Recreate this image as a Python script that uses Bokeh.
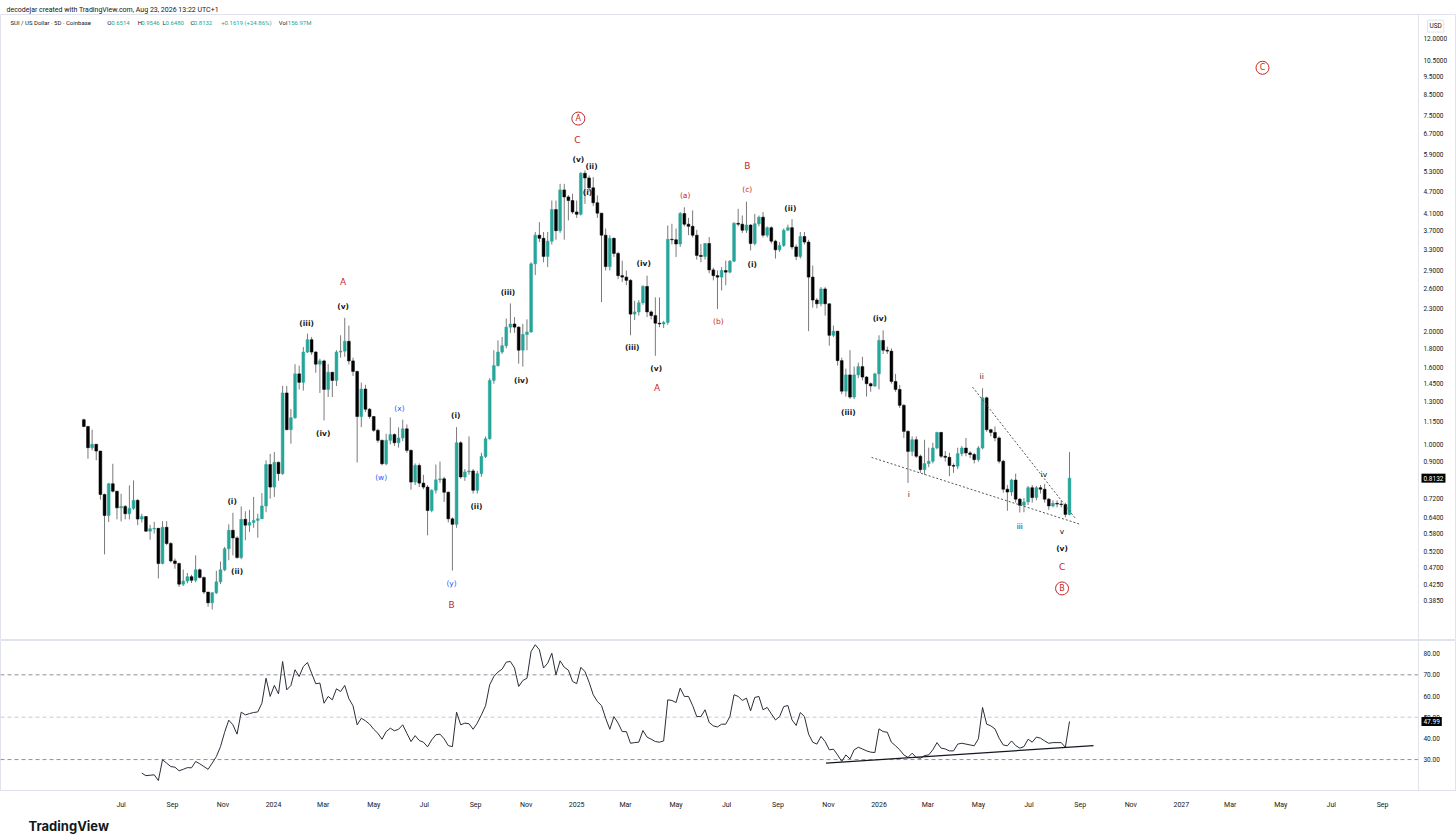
import numpy as np
import pandas as pd
from bokeh.plotting import figure
from bokeh.models import (Range1d, FixedTicker, Span, Label, Title, ColumnDataSource)
from bokeh.layouts import column
from bokeh.embed import file_html
from bokeh.resources import INLINE
from bokeh.core.properties import value

# ---------------- data (SUI / USD, 5-day candles, Coinbase) ----------------
start_date = "2023-05-17"
first_open = 1.163

closes = [
    1.116, 0.980, 1.001, 0.960, 0.736, 0.647, 0.786, 0.751, 0.678, 0.684,
    0.654, 0.676, 0.710, 0.633, 0.643, 0.588, 0.597, 0.598, 0.482, 0.602,
    0.545, 0.490, 0.482, 0.425, 0.433, 0.445, 0.435, 0.464, 0.443, 0.405,
    0.379, 0.403, 0.431, 0.464, 0.528, 0.591, 0.564, 0.500, 0.632, 0.610,
    0.620, 0.628, 0.634, 0.686, 0.884, 0.770, 0.896, 0.836, 1.370, 1.094,
    1.177, 1.540, 1.462, 1.760, 1.898, 1.760, 1.634, 1.667, 1.400, 1.555,
    1.479, 1.760, 1.770, 1.880, 1.667, 1.563, 1.186, 1.403, 1.240, 1.186,
    1.090, 1.025, 0.888, 1.025, 1.062, 1.010, 1.040, 1.100, 0.964, 0.794,
    0.879, 0.789, 0.770, 0.667, 0.755, 0.805, 0.810, 0.746, 0.634, 0.613,
    1.010, 0.819, 0.845, 0.850, 0.755, 0.836, 0.929, 1.035, 1.480, 1.620,
    1.760, 1.830, 2.050, 2.090, 2.050, 1.780, 1.960, 1.990, 3.020, 3.600,
    3.530, 3.160, 3.470, 4.210, 3.700, 4.750, 4.550, 4.450, 4.150, 4.090,
    5.260, 5.110, 4.810, 4.390, 4.120, 3.600, 2.970, 3.530, 3.220, 2.810,
    2.785, 2.730, 2.220, 2.250, 2.380, 2.630, 2.250, 2.200, 2.100, 2.090,
    2.110, 3.510, 3.500, 3.410, 4.110, 3.850, 3.800, 3.600, 3.180, 3.160,
    3.420, 2.910, 2.810, 2.785, 2.900, 2.870, 3.070, 3.870, 3.850, 3.710,
    3.830, 3.420, 3.860, 4.020, 3.600, 3.770, 3.470, 3.290, 3.380, 3.710,
    3.770, 3.350, 3.160, 3.570, 3.450, 2.785, 2.420, 2.365, 2.590, 2.365,
    1.950, 2.000, 1.670, 1.385, 1.530, 1.336, 1.530, 1.610, 1.510, 1.450,
    1.430, 1.540, 1.890, 1.780, 1.770, 1.470, 1.400, 1.270, 1.083, 0.958,
    1.029, 0.930, 0.857, 0.889, 0.902, 0.978, 1.076, 0.930, 0.924, 0.879,
    0.875, 0.945, 0.978, 0.949, 0.940, 0.911, 0.978, 1.330, 1.094, 1.076,
    1.040, 0.902, 0.760, 0.747, 0.804, 0.715, 0.689, 0.703, 0.767, 0.722,
    0.767, 0.760, 0.715, 0.686, 0.697, 0.694, 0.692, 0.6514, 0.8132,
]

highs = [
    1.17, 1.12, 1.094, 1.00, 0.96, 0.74, 0.79, 0.888, 0.75, 0.739,
    0.69, 0.778, 0.802, 0.715, 0.654, 0.645, 0.611, 0.622, 0.60, 0.625,
    0.625, 0.55, 0.497, 0.485, 0.465, 0.455, 0.45, 0.507, 0.468, 0.445,
    0.405, 0.405, 0.461, 0.488, 0.534, 0.613, 0.658, 0.57, 0.684, 0.664,
    0.67, 0.725, 0.654, 0.742, 0.907, 0.944, 0.954, 0.90, 1.43, 1.43,
    1.242, 1.634, 1.62, 1.815, 1.97, 1.93, 1.77, 1.69, 1.68, 1.634,
    1.56, 1.78, 1.95, 2.17, 2.07, 1.70, 1.57, 1.46, 1.44, 1.25,
    1.19, 1.10, 1.03, 1.067, 1.18, 1.07, 1.11, 1.163, 1.13, 0.97,
    0.89, 0.89, 0.83, 0.78, 0.76, 0.884, 0.90, 0.82, 0.75, 0.64,
    1.112, 1.02, 0.86, 1.05, 0.86, 0.85, 0.95, 1.05, 1.50, 1.78,
    1.89, 1.93, 2.16, 2.37, 2.18, 2.06, 2.09, 2.15, 3.05, 3.67,
    3.90, 3.67, 3.67, 4.45, 4.45, 4.93, 4.93, 4.60, 4.64, 4.45,
    5.29, 5.35, 5.19, 5.14, 4.59, 4.10, 3.75, 3.60, 3.55, 3.25,
    3.08, 2.90, 2.75, 2.41, 2.42, 2.65, 2.81, 2.27, 2.46, 2.46,
    2.13, 3.82, 3.86, 3.75, 4.15, 4.27, 4.00, 4.19, 3.72, 3.41,
    3.43, 3.56, 2.95, 2.90, 2.96, 3.08, 3.09, 3.90, 4.23, 4.06,
    4.42, 3.85, 4.10, 4.06, 4.15, 3.80, 3.80, 3.50, 3.45, 3.75,
    3.84, 3.97, 3.40, 3.67, 3.67, 3.50, 2.99, 2.45, 2.62, 2.62,
    2.37, 2.07, 2.00, 1.70, 1.59, 1.78, 1.61, 1.65, 1.71, 1.52,
    1.46, 1.55, 1.95, 2.01, 1.82, 1.80, 1.54, 1.44, 1.28, 1.09,
    1.05, 1.05, 0.94, 1.029, 0.98, 1.01, 1.08, 1.08, 0.96, 0.95,
    0.89, 0.98, 0.99, 1.04, 0.96, 0.95, 0.99, 1.41, 1.34, 1.10,
    1.116, 1.05, 0.91, 0.78, 0.81, 0.836, 0.72, 0.72, 0.775, 0.78,
    0.775, 0.78, 0.785, 0.72, 0.71, 0.71, 0.71, 0.70, 0.9546,
]

lows = [
    1.11, 0.916, 0.964, 0.907, 0.713, 0.510, 0.622, 0.745, 0.632, 0.624,
    0.632, 0.632, 0.67, 0.61, 0.62, 0.585, 0.558, 0.579, 0.440, 0.48,
    0.54, 0.485, 0.467, 0.418, 0.42, 0.427, 0.428, 0.43, 0.44, 0.40,
    0.37, 0.364, 0.40, 0.425, 0.46, 0.492, 0.507, 0.497, 0.495, 0.556,
    0.585, 0.60, 0.565, 0.654, 0.66, 0.717, 0.725, 0.80, 0.83, 1.09,
    1.004, 1.17, 1.40, 1.39, 1.75, 1.73, 1.55, 1.37, 1.158, 1.336,
    1.336, 1.43, 1.70, 1.71, 1.63, 1.52, 0.895, 1.112, 1.22, 1.17,
    1.08, 1.01, 0.88, 0.88, 1.0, 0.99, 0.98, 1.02, 0.95, 0.758,
    0.78, 0.77, 0.76, 0.573, 0.66, 0.74, 0.79, 0.703, 0.62, 0.462,
    0.60, 0.81, 0.80, 0.83, 0.74, 0.74, 0.82, 0.92, 1.03, 1.45,
    1.61, 1.74, 1.80, 1.98, 1.98, 1.64, 1.61, 1.78, 1.98, 2.82,
    3.45, 3.05, 2.96, 3.40, 3.50, 3.65, 3.50, 3.94, 4.10, 4.00,
    4.06, 4.36, 4.70, 4.30, 4.00, 2.39, 2.90, 2.90, 3.15, 2.75,
    2.70, 2.65, 1.95, 2.14, 2.20, 2.35, 2.18, 2.15, 1.72, 2.05,
    2.04, 2.08, 3.40, 3.15, 3.35, 3.80, 3.60, 3.55, 3.10, 3.05,
    3.10, 2.85, 2.73, 2.29, 2.566, 2.65, 2.85, 3.05, 3.80, 3.65,
    3.65, 3.28, 3.38, 3.80, 3.55, 3.55, 3.42, 3.12, 3.25, 3.35,
    3.70, 3.30, 3.09, 3.12, 3.40, 2.00, 2.31, 2.30, 2.33, 2.20,
    1.83, 1.93, 1.62, 1.36, 1.34, 1.32, 1.32, 1.50, 1.48, 1.34,
    1.38, 1.42, 1.40, 1.74, 1.74, 1.45, 1.38, 1.25, 1.04, 0.79,
    0.93, 0.92, 0.84, 0.83, 0.87, 0.89, 0.97, 0.92, 0.90, 0.823,
    0.84, 0.86, 0.93, 0.93, 0.92, 0.89, 0.90, 0.97, 1.08, 1.05,
    1.02, 0.89, 0.744, 0.666, 0.73, 0.70, 0.659, 0.66, 0.69, 0.70,
    0.71, 0.74, 0.70, 0.67, 0.68, 0.68, 0.68, 0.64, 0.6480,
]

rsi_values = [
    23.6, 22.4, 22.6, 22.8, 20.1, 29.9, 28.3, 26.7, 26.4, 24.7,
    25.4, 26.2, 26.1, 29.1, 28.0, 26.7, 25.4, 28.3, 31.4, 36.1,
    42.9, 48.6, 46.4, 42.0, 52.4, 51.1, 51.7, 52.2, 52.5, 56.6,
    68.4, 59.8, 65.0, 61.0, 76.3, 62.9, 65.0, 72.4, 69.2, 73.9,
    75.8, 70.8, 65.8, 66.1, 56.6, 59.8, 58.2, 63.4, 62.1, 65.0,
    58.7, 55.4, 46.4, 49.5, 48.3, 46.7, 44.3, 42.4, 39.6, 43.2,
    44.8, 43.6, 44.3, 46.4, 42.4, 38.5, 41.3, 39.0, 38.2, 36.0,
    39.3, 41.7, 42.0, 39.8, 36.6, 36.1, 52.4, 46.4, 47.2, 46.9,
    44.3, 47.2, 51.1, 55.4, 65.3, 69.2, 71.3, 72.7, 76.0, 76.3,
    73.2, 64.5, 67.3, 68.4, 81.0, 84.2, 81.8, 73.2, 75.5, 80.2,
    70.0, 76.6, 73.6, 72.2, 66.9, 65.8, 73.5, 71.6, 66.5, 60.6,
    57.4,
    55.5, 49.5, 44.3, 50.3, 47.2, 43.2, 43.2, 37.7, 38.0, 38.2,
    43.7, 40.6, 39.6, 38.5, 38.2, 38.8, 58.2, 57.9, 56.9, 63.7,
    59.8, 59.8, 55.5, 50.3, 50.3, 53.5, 47.5, 45.9, 45.4, 46.7,
    46.7, 50.3, 60.6, 59.8, 57.9, 59.0, 53.0, 59.3, 59.8, 53.5,
    54.6, 51.6, 48.7, 50.3, 55.0, 55.5, 48.7, 46.1, 52.2, 50.3,
    42.0, 38.2, 37.3, 40.9, 38.5, 34.6, 34.9, 32.2, 29.1, 32.2,
    30.3, 34.6, 35.8, 35.0, 34.1, 33.5, 33.3, 44.5, 43.2, 42.9,
    38.2, 36.5, 34.6, 32.2, 31.0, 33.0, 31.0, 30.6, 31.9, 32.2,
    34.6, 38.0, 35.4, 35.0, 34.1, 34.1, 37.3, 37.7, 37.3, 36.9,
    36.5, 39.8, 54.6, 46.7, 45.9, 44.5, 40.1, 36.9, 36.5, 38.8,
    36.6, 35.4, 36.1, 39.6, 38.2, 40.6, 40.1, 38.8, 37.7, 38.0,
    38.0, 38.0, 35.8, 47.99,
]
rsi_start = 14

price_ticks = [12.0, 10.5, 9.5, 8.5, 7.5, 6.7, 5.9, 5.3, 4.7, 4.1, 3.7, 3.3, 2.9,
               2.6, 2.3, 2.0, 1.8, 1.6, 1.45, 1.3, 1.15, 1.0, 0.9, 0.72, 0.64,
               0.58, 0.52, 0.47, 0.425, 0.385]
rsi_ticks = [30, 40, 50, 60, 70, 80]
month_tick_labels = ["Jul", "Sep", "Nov", "2024", "Mar", "May", "Jul", "Sep", "Nov",
                     "2025", "Mar", "May", "Jul", "Sep", "Nov", "2026", "Mar", "May",
                     "Jul", "Sep", "Nov", "2027", "Mar", "May", "Jul", "Sep"]

# Elliott-wave labels: (text, date, price)
wave_black = [("(v)", "2025-01-03", 5.72), ("(ii)", "2025-01-19", 5.48), ("(i)", "2025-01-14", 4.67),
              ("(v)", "2024-03-25", 2.327), ("(iii)", "2024-02-10", 2.097), ("(iv)", "2024-03-01", 1.070),
              ("(i)", "2024-08-08", 1.194), ("(ii)", "2024-09-02", 0.684),
              ("(i)", "2023-11-12", 0.706), ("(ii)", "2023-11-18", 0.460),
              ("(iii)", "2024-10-10", 2.535), ("(iv)", "2024-10-26", 1.479),
              ("(iv)", "2025-03-23", 3.027), ("(iii)", "2025-03-09", 1.81), ("(v)", "2025-04-07", 1.592),
              ("(i)", "2025-08-01", 3.006), ("(ii)", "2025-09-16", 4.24),
              ("(iv)", "2026-01-02", 2.162), ("(iii)", "2025-11-25", 1.216),
              ("(v)", "2026-08-10", 0.529)]
wave_minor = [("i", "2026-02-06", 0.736), ("ii", "2026-05-05", 1.516), ("iii", "2026-06-20", 0.605),
              ("iv", "2026-07-19", 0.832), ("v", "2026-08-10", 0.587)]
wave_red = [("C", "2025-01-02", 6.43), ("A", "2024-03-25", 2.695), ("B", "2024-08-03", 0.373),
            ("A", "2025-04-08", 1.409), ("B", "2025-07-26", 5.51), ("C", "2026-08-10", 0.471)]
wave_red_small = [("(a)", "2025-05-12", 4.59), ("(b)", "2025-06-21", 2.123), ("(c)", "2025-07-26", 4.76)]
wave_blue = [("(x)", "2024-06-01", 1.246), ("(w)", "2024-05-10", 0.817), ("(y)", "2024-08-03", 0.427)]
wave_circled = [("A", "2025-01-03", 7.35), ("B", "2026-08-10", 0.414), ("C", "2027-04-09", 10.03)]

# dotted triangle (ending diagonal) and RSI support line
wedge_lower_dates = ["2025-12-23", "2026-09-01"]
wedge_lower_prices = [0.9235, 0.613]
wedge_upper_dates = ["2026-04-24", "2026-08-27"]
wedge_upper_prices = [1.42, 0.632]
rsi_line_dates = ["2025-10-29", "2026-09-17"]
rsi_line_values = [28.3, 36.6]

# ---------------- preparation ----------------
epoch = pd.Timestamp("2023-01-01")


def to_day(d):
    return float((pd.Timestamp(d) - epoch).days)


n = min(len(closes), len(highs), len(lows))
dates = pd.date_range(start_date, periods=n, freq="5D")
days = np.array([(d - epoch).days for d in dates], dtype=float)
c = np.array(closes[:n])
o = np.array([first_open] + closes[:n - 1])
top = np.maximum(o, c)
bot = np.minimum(o, c)
hi = np.maximum(np.array(highs[:n]), top)
lo = np.minimum(np.array(lows[:n]), bot)
bot = np.where(top - bot < 0.002 * top, top / 1.004, bot)

TEAL = "#26a69a"
RED = "#c62828"
BLUE = "#2962ff"
INK = "#131722"
GRID = "#e0e3eb"
W = 1456

# horizontal layout: chart panes and price-scale strip share one frame
DPP = 1 / 0.8283                 # days per pixel
X0 = 35.4                        # left edge of frame
X_PANE = 1747.3                  # right edge of chart panes (start of price scale)
X_END = X0 + W * DPP
X_LAB = X_PANE + 5 * DPP
Y0, Y1 = 0.301, 13.9
R0, R1 = 15.4, 86.2

colors = [TEAL if cc >= oo else "#000000" for oo, cc in zip(o, c)]
src = ColumnDataSource(dict(x=days, top=top, bot=bot, hi=hi, lo=lo, color=colors))

# ---------------- main price pane ----------------
p = figure(width=W, height=640, x_range=Range1d(X0, X_END), y_range=Range1d(Y0, Y1),
           y_axis_type="log", y_axis_location=None, x_axis_location=None,
           toolbar_location=None, output_backend="svg",
           min_border_left=0, min_border_right=0, min_border_top=14, min_border_bottom=0)
p.title.text = "decodejar created with TradingView.com, Aug 23, 2026 13:22 UTC+1"
p.title.text_font = "Roboto"
p.title.text_font_size = "7px"
p.title.text_font_style = "normal"
p.title.text_color = INK
p.title.standoff = 2
p.title.offset = 6
p.grid.visible = False
p.outline_line_color = GRID
p.background_fill_color = "white"
p.border_fill_color = "white"
p.add_layout(Span(location=X_PANE, dimension="height", line_color=GRID, line_width=1))

p.segment(x0="x", y0="lo", x1="x", y1="hi", source=src, line_color="#7a7a7a", line_width=1)
p.vbar(x="x", width=3.4, top="top", bottom="bot", source=src,
       fill_color="color", line_color="color", line_width=0.5)

# price scale labels
ps = ColumnDataSource(dict(x=[X_LAB] * len(price_ticks), y=price_ticks,
                           t=[f"{v:.4f}" for v in price_ticks]))
p.text(x="x", y="y", text="t", source=ps, text_color=INK, text_font=value("Roboto"),
       text_font_size=value("6.5px"), text_align="left", text_baseline="middle")
p.add_layout(Label(x=X_PANE + 9 * DPP, y=12.95, text="USD", text_font="Roboto",
                   text_font_size="6.5px", text_color=INK, text_baseline="middle",
                   border_line_color=GRID, padding=2))
p.add_layout(Label(x=X_PANE + 3 * DPP, y=closes[-1], text=f"{closes[-1]:.4f}", text_font="Roboto",
                   text_font_size="6.5px", text_color="white", text_baseline="middle",
                   background_fill_color="#000000", padding=2))

# wedge lines
p.line([to_day(d) for d in wedge_lower_dates], wedge_lower_prices,
       line_color="#555555", line_dash="2 2", line_width=1)
p.line([to_day(d) for d in wedge_upper_dates], wedge_upper_prices,
       line_color="#555555", line_dash="2 2", line_width=1)


def add_texts(fig, items, color, size, style="normal", font="DejaVu Sans"):
    s = ColumnDataSource(dict(x=[to_day(d) for _, d, _ in items],
                              y=[v for _, _, v in items],
                              t=[t for t, _, _ in items]))
    fig.text(x="x", y="y", text="t", source=s, text_color=color,
             text_font=value(font), text_font_size=value(size), text_font_style=style,
             text_align="center", text_baseline="middle")


add_texts(p, wave_black, INK, "7.5px", "bold")
add_texts(p, wave_minor, INK, "7.5px", "normal")
add_texts(p, wave_red, RED, "9px", "normal")
add_texts(p, wave_red_small, RED, "7.5px", "normal")
add_texts(p, wave_blue, BLUE, "7.5px", "normal")
add_texts(p, wave_circled, RED, "8px", "normal")
p.scatter(x=[to_day(d) for _, d, _ in wave_circled], y=[v for _, _, v in wave_circled],
          marker="circle", size=13, fill_color=None, line_color=RED, line_width=1)

# legend line inside the pane (offsets in pixels from the left of the frame)
legend_parts = [("SUI / US Dollar · 5D · Coinbase", 10, INK), ("O", 106.7, INK), ("0.6514", 110.7, TEAL),
                ("H", 137.3, INK), ("0.9546", 140.7, TEAL), ("L", 162, INK), ("0.6480", 165, TEAL),
                ("C", 190, INK), ("0.8132", 193.3, TEAL), ("+0.1619 (+24.86%)", 220.7, TEAL),
                ("Vol", 278.3, INK), ("156.97M", 287.3, TEAL)]
ls = ColumnDataSource(dict(x=[X0 + px * DPP for _, px, _ in legend_parts],
                           y=[13.2] * len(legend_parts),
                           t=[t for t, _, _ in legend_parts],
                           col=[cl for _, _, cl in legend_parts]))
p.text(x="x", y="y", text="t", source=ls, text_color="col", text_font=value("Roboto"),
       text_font_size=value("6px"), text_align="left", text_baseline="middle")

# ---------------- RSI pane ----------------
r = figure(width=W, height=198, x_range=p.x_range, y_range=Range1d(R0, R1),
           y_axis_location=None, toolbar_location=None, output_backend="svg",
           min_border_left=0, min_border_right=0, min_border_top=0, min_border_bottom=48)
r.grid.visible = False
r.outline_line_color = GRID
r.add_layout(Span(location=X_PANE, dimension="height", line_color=GRID, line_width=1))

tick_dates = pd.date_range("2023-07-01", periods=len(month_tick_labels), freq="2MS")
tick_days = [int((d - epoch).days) for d in tick_dates]
r.xaxis.ticker = FixedTicker(ticks=tick_days, minor_ticks=[])
r.xaxis.major_label_overrides = {td: lab for td, lab in zip(tick_days, month_tick_labels)}
r.xaxis.major_label_text_font = "Roboto"
r.xaxis.major_label_text_font_size = "7px"
r.xaxis.major_label_text_color = INK
r.xaxis.major_tick_line_color = None
r.xaxis.minor_tick_line_color = None
r.xaxis.axis_line_color = GRID
r.xaxis.major_label_standoff = 4

for lvl, col in [(70, "#8f929b"), (50, "#c8cad0"), (30, "#8f929b")]:
    r.segment(x0=[X0], y0=[lvl], x1=[X_PANE], y1=[lvl], line_color=col,
              line_dash="4 3", line_width=1)

rs = ColumnDataSource(dict(x=[X_LAB] * len(rsi_ticks), y=rsi_ticks,
                           t=[f"{v:.2f}" for v in rsi_ticks]))
r.text(x="x", y="y", text="t", source=rs, text_color=INK, text_font=value("Roboto"),
       text_font_size=value("6.5px"), text_align="left", text_baseline="middle")

r.line(days[rsi_start:rsi_start + len(rsi_values)], rsi_values, line_color="#2a2e39", line_width=1)
r.line([to_day(d) for d in rsi_line_dates], rsi_line_values, line_color=INK, line_width=1.2)
r.add_layout(Label(x=X_PANE + 3 * DPP, y=rsi_values[-1], text=f"{rsi_values[-1]:.2f}",
                   text_font="Roboto", text_font_size="6.5px", text_color="white",
                   text_baseline="middle", background_fill_color="#000000", padding=2))

r.add_layout(Title(text="TradingView", text_font="Inter", text_font_size="13px",
                   text_font_style="bold", text_color=INK, align="left", offset=28,
                   standoff=8), "below")

layout = column(p, r, spacing=0)
open("out.html", "w").write(file_html(layout, INLINE))
